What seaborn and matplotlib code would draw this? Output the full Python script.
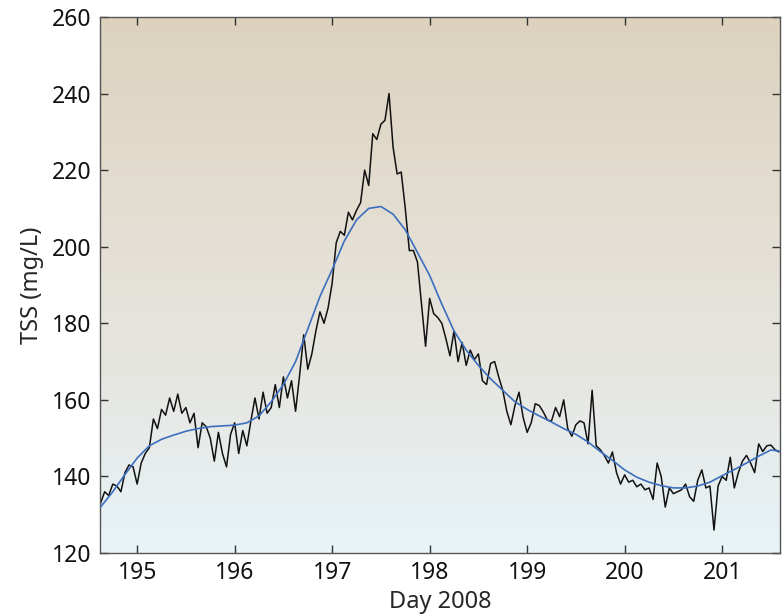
import numpy as np
import pandas as pd
import matplotlib
matplotlib.use("Agg")
import matplotlib.pyplot as plt
from matplotlib.colors import LinearSegmentedColormap
import seaborn as sns

# ---- data ----
t0_measured = 194.625          # first sample, day of year 2008
dt_measured = 1.0 / 24.0       # hourly
tss_measured = [
    133, 136, 135, 138, 137.5, 136, 141, 143, 142.5, 138,
    143.5, 146, 147.5, 155, 152.5, 157.5, 156, 160.5, 157, 161.5,
    156.5, 158, 154, 156.5, 147.5, 154, 153, 150, 144, 151.5,
    146, 142.5, 151, 154, 146, 152, 148, 154.5, 160.5, 155,
    162, 156.5, 158, 164, 158, 166, 160.5, 165, 157, 166.5,
    177, 168, 172, 178, 183, 180, 184, 190.5, 201, 204,
    203, 209, 207, 209.5, 211.5, 220, 216, 229.5, 228, 232,
    233, 240, 226, 219, 219.5, 210, 199, 199, 196, 185,
    174, 186.5, 182.5, 181.5, 180, 176, 171.5, 178, 170, 175,
    169, 173, 170.5, 172, 165, 164, 169.5, 170, 166, 162.5,
    157, 153.5, 158.5, 162, 155.5, 151.5, 154, 159, 158.5, 156.8,
    154.7, 154.5, 158, 155.6, 160, 152.5, 150.5, 153.5, 154.5, 154,
    148.5, 162.5, 148, 147, 145.5, 143.5, 146.4, 141, 138, 140.4,
    138.5, 139, 137.3, 138, 136.5, 137, 134, 143.5, 140, 132,
    137, 135.5, 136, 136.5, 138, 134.7, 133.5, 139, 141.7, 137,
    137.5, 126, 137.5, 140, 139, 145, 137, 141, 144, 145.5,
    143.5, 141, 148.5, 146.5, 148, 148.2, 147, 146.4,
]

t0_fit = 194.625
dt_fit = 0.125
tss_fit = [
    132, 136, 140.5, 144.8, 148, 149.7, 150.8, 151.8, 152.5, 153,
    153.2, 153.4, 154, 155.8, 159.5, 164, 170, 178.5, 187, 194,
    201.5, 207, 210, 210.5, 208.5, 204.4, 198.5, 192.5, 185, 178,
    173, 169, 165.5, 162.5, 159.5, 157.5, 155.8, 154.2, 152.5, 151,
    149, 146.5, 144.2, 141.7, 139.8, 138.5, 137.6, 137, 137, 137.5,
    138.5, 140.2, 141.8, 143.5, 145.3, 146.9, 146.5,
]

x_ticks = [195, 196, 197, 198, 199, 200, 201]
y_ticks = [120, 140, 160, 180, 200, 220, 240, 260]
x_label = "Day 2008"
y_label = "TSS (mg/L)"

measured = pd.DataFrame({
    "day": t0_measured + dt_measured * np.arange(len(tss_measured)),
    "tss": tss_measured,
})
fit = pd.DataFrame({
    "day": t0_fit + dt_fit * np.arange(len(tss_fit)),
    "tss": tss_fit,
})

# ---- figure ----
sns.set_theme(style="ticks")
plt.rcParams["font.family"] = ["Noto Sans", "DejaVu Sans"]

fig = plt.figure(figsize=(7.82, 6.15), dpi=100)
ax = fig.add_axes([0.128, 0.1008, 0.869, 0.8716])

# gradient background (tan at top -> pale blue at bottom)
grad_cmap = LinearSegmentedColormap.from_list(
    "bg", ["#E8F4F8", "#E6E6E1", "#E3DDD0", "#DCD2BE"])
grad = np.linspace(0, 1, 256).reshape(-1, 1)
ax.imshow(grad, aspect="auto", cmap=grad_cmap, origin="lower",
          extent=[0, 1, 0, 1], transform=ax.transAxes, zorder=0)

sns.lineplot(data=measured, x="day", y="tss", ax=ax, color="#111111",
             linewidth=1.1, zorder=2)
sns.lineplot(data=fit, x="day", y="tss", ax=ax, color="#3C6EBE",
             linewidth=1.2, zorder=3)

ax.set_xlim(194.62, 201.59)
ax.set_ylim(120, 260)
ax.set_xticks(x_ticks)
ax.set_yticks(y_ticks)
ax.set_xlabel(x_label, fontsize=17, labelpad=3)
ax.set_ylabel(y_label, fontsize=17, labelpad=6)
ax.tick_params(axis="both", which="both", direction="in", length=6,
               width=1, color="#333333", labelsize=16.5, labelcolor="#111111",
               top=True, right=True, pad=6)
for s in ax.spines.values():
    s.set_color("#555555")
    s.set_linewidth(1.0)

fig.savefig("out.png", dpi=100)
